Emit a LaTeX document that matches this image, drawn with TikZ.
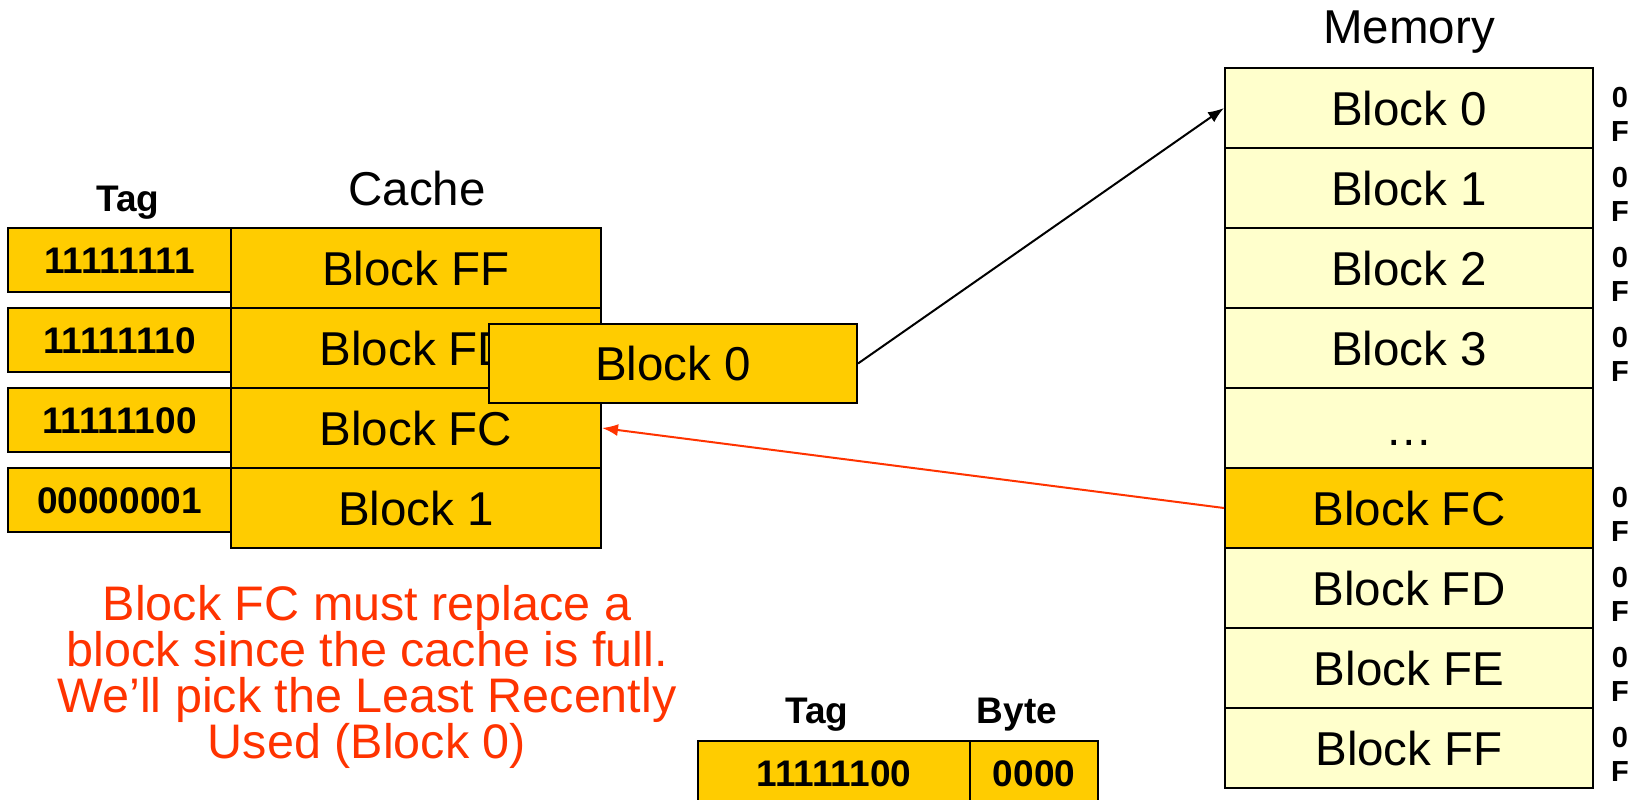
\documentclass[tikz,border=0pt]{standalone}
\usepackage{fontspec}
\setmainfont{Liberation Sans}
\usetikzlibrary{arrows.meta}
\definecolor{cacheY}{HTML}{FFCC00}
\definecolor{memY}{HTML}{FFFFCC}
\definecolor{noteRed}{HTML}{FF3300}
\newcommand{\bigfnt}{\fontsize{47.5}{48}\selectfont}
\newcommand{\notefnt}{\fontsize{48.5}{46}\selectfont}
\newcommand{\tagfnt}{\fontsize{37}{38}\selectfont\bfseries}
\newcommand{\addrfnt}{\fontsize{29}{30}\selectfont\bfseries}
\begin{document}
\begin{tikzpicture}[x=1pt,y=-1pt,
  box/.style={draw=black, line width=2pt, inner sep=0pt, anchor=center},
  membox/.style={box, fill=memY, minimum width=368pt, minimum height=80pt,
    font=\bigfnt, text height=34pt, text depth=0pt},
  cachebox/.style={box, fill=cacheY, minimum width=370pt, minimum height=80pt,
    font=\bigfnt, text height=34pt, text depth=0pt},
  tagbox/.style={box, fill=cacheY, minimum width=223pt, minimum height=64pt,
    font=\tagfnt, text height=26.5pt, text depth=0pt},
  title/.style={font=\bigfnt, anchor=base, inner sep=0pt},
  hdr/.style={font=\tagfnt, anchor=base, inner sep=0pt},
  addr/.style={font=\addrfnt, anchor=base, inner sep=0pt},
  note/.style={font=\notefnt, text=noteRed, align=center, inner sep=0pt},
  blackarrow/.style={line width=2pt, -{Latex[length=16pt,width=12pt]}},
  redarrow/.style={line width=2pt, draw=noteRed, -{Latex[length=16pt,width=12pt]}}
]
\useasboundingbox (0,0) rectangle (1635,800);

% titles
\node[title] (memtitle) at (1409,44) {Memory};
\node[title] (cachetitle) at (417,205) {Cache};
\node[hdr] (tagtitle) at (128,211) {Tag};

% tag boxes
\foreach \i/\t in {0/11111111,1/11111110,2/11111100,3/00000001}
  \node[tagbox] (t\i) at (119.5,{260+80*\i}) {\t};

% cache blocks
\foreach \i/\t in {0/Block FF,1/Block FD,2/Block FC,3/Block 1}
  \node[cachebox] (c\i) at (416,{268+80*\i}) {\t};

% block being evicted
\node[cachebox, minimum width=368pt, minimum height=79pt] (b0) at (673,363.5) {Block 0};

% memory
\foreach \i/\t/\f in {0/Block 0/memY,1/Block 1/memY,2/Block 2/memY,3/Block 3/memY,
    4/…/memY,5/Block FC/cacheY,6/Block FD/memY,7/Block FE/memY,8/Block FF/memY}
  \node[membox, fill=\f] (m\i) at (1409,{108+80*\i}) {\t};

% address labels
\foreach \i in {0,1,2,3,5,6,7,8}{
  \node[addr] (z\i) at (1620,{68+80*\i+39}) {0};
  \node[addr] (f\i) at (1620,{68+80*\i+73}) {F};
}

% arrows
\draw[blackarrow] (b0.east) -- (m0.west);
\draw[redarrow] (m5.west) -- (c2.east);

% note
\node[note] (note) at (367,677) {Block FC must replace a\\block since the cache is full.\\We’ll pick the Least Recently\\Used (Block 0)};

% address breakdown
\node[hdr] (htag) at (817,723) {Tag};
\node[hdr] (hbyte) at (1017,723) {Byte};
\node[tagbox, minimum width=272pt, minimum height=65pt, anchor=north west] (atag) at (697,740) {11111100};
\node[tagbox, minimum width=128pt, minimum height=65pt, anchor=north west] (abyte) at (969,740) {0000};
\end{tikzpicture}
\end{document}
